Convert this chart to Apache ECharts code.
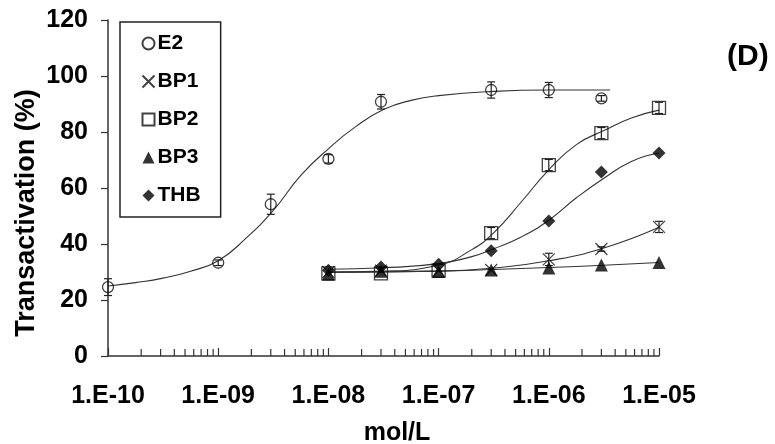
<!DOCTYPE html>
<html>
<head>
<meta charset="utf-8">
<script src="https://cdn.jsdelivr.net/npm/echarts@6/dist/echarts.min.js"></script>
<style>html,body{margin:0;padding:0;background:#fff;}#c{width:775px;height:444px;}</style>
</head>
<body>
<div id="c"></div>
<script>
// ---- data ----
const xTickLabels = ['1.E-10', '1.E-09', '1.E-08', '1.E-07', '1.E-06', '1.E-05'];
const yTicks = [0, 20, 40, 60, 80, 100, 120];

const e2Conc = [1e-10, 1e-9, 3e-9, 1e-8, 3e-8, 3e-7, 1e-6, 3e-6];
const e2Val  = [24.6, 33.3, 54.2, 70.4, 90.8, 95.0, 95.0, 92.0];
const e2Err  = [3.0, 1.0, 3.6, 1.5, 2.6, 2.9, 2.7, 1.0];

const cmpConc = [1e-8, 3e-8, 1e-7, 3e-7, 1e-6, 3e-6, 1e-5];
const bp1Val = [30.0, 30.5, 30.5, 30.7, 34.5, 38.2, 46.1];
const bp1Err = [0, 0, 0, 0, 2.2, 0.8, 2.0];
const bp2Val = [29.5, 29.5, 30.5, 43.9, 68.2, 79.6, 88.6];
const bp2Err = [0, 0, 0, 2.0, 2.0, 2.0, 2.0];
const bp3Val = [29.2, 30.3, 30.2, 30.7, 31.4, 32.5, 33.4];
const thbVal = [30.6, 31.8, 32.8, 37.6, 48.2, 65.7, 72.5];

// fitted curves
const e2FitX = [1e-10, 1.78e-10, 3.16e-10, 5.62e-10, 1e-9, 1.78e-9, 3.16e-9, 5.62e-9, 1e-8, 1.78e-8, 3.16e-8, 5.62e-8, 1e-7, 3.16e-7, 1e-6, 3.6e-6];
const e2FitY = [25.0, 26.2, 27.8, 30.3, 34.0, 42.0, 52.0, 64.5, 74.0, 82.0, 88.0, 91.3, 93.0, 94.5, 95.0, 95.0];
const sigFitX = [1e-8, 3.16e-8, 1e-7, 2e-7, 3.16e-7, 5.62e-7, 1e-6, 1.78e-6, 3.16e-6, 5.62e-6, 1e-5];
const bp2FitY = [30.0, 30.3, 32.5, 38.0, 44.0, 55.0, 66.5, 75.5, 80.5, 85.0, 87.8];
const thbFitY = [31.0, 31.5, 33.0, 35.5, 38.3, 42.5, 48.5, 56.5, 63.5, 69.5, 72.5];
const linFitX = [1e-8, 1e-7, 3.16e-7, 1e-6, 3.16e-6, 1e-5];
const bp1FitY = [30.0, 30.3, 31.4, 34.0, 38.6, 46.0];
const bp3FitY = [29.8, 30.3, 30.9, 31.6, 32.4, 33.4];

// minor tick positions (2..9 within each decade) — axis decoration
const minorTicks = [];
for (let e = -10; e < -5; e++) {
  for (let m = 2; m <= 9; m++) minorTicks.push([m * Math.pow(10, e)]);
}

const FONT = 'Liberation Sans';
const pair = (xs, ys) => xs.map((x, i) => [x, ys[i]]);
const errData = (xs, ys, es) => xs.map((x, i) => [x, ys[i] - es[i], ys[i] + es[i]]).filter((d, i) => es[i] > 0);

function errorSeries(data) {
  return {
    type: 'custom', silent: true, z: 3,
    renderItem: function (params, api) {
      const x = api.value(0);
      const lo = api.coord([x, api.value(1)]);
      const hi = api.coord([x, api.value(2)]);
      const w = 4;
      return {
        type: 'group',
        children: [
          { type: 'line', shape: { x1: lo[0], y1: lo[1], x2: hi[0], y2: hi[1] }, style: { stroke: '#222', lineWidth: 1.2 } },
          { type: 'line', shape: { x1: lo[0] - w, y1: lo[1], x2: lo[0] + w, y2: lo[1] }, style: { stroke: '#222', lineWidth: 1.2 } },
          { type: 'line', shape: { x1: hi[0] - w, y1: hi[1], x2: hi[0] + w, y2: hi[1] }, style: { stroke: '#222', lineWidth: 1.2 } }
        ]
      };
    },
    encode: { x: 0, y: [1, 2] },
    data: data
  };
}
function fitSeries(name, xs, ys) {
  return {
    name: name, type: 'line', smooth: 0.5, showSymbol: false, silent: true, z: 2,
    lineStyle: { color: '#333', width: 1.1 },
    data: pair(xs, ys)
  };
}

const chart = echarts.init(document.getElementById('c'), null, { renderer: 'canvas' });
chart.setOption({
  backgroundColor: '#fff',
  animation: false,
  grid: { left: 108, right: 116, top: 20, bottom: 88, containLabel: false },
  legend: {
    orient: 'vertical', left: 120, top: 22,
    data: ['E2', 'BP1', 'BP2', 'BP3', 'THB'],
    borderColor: '#222', borderWidth: 1.5,
    padding: [11, 20, 11, 20],
    itemGap: 17, itemWidth: 12, itemHeight: 12,
    textStyle: { fontFamily: FONT, fontWeight: 'bold', fontSize: 21, color: '#000', padding: [0, 0, 0, -2] }
  },
  xAxis: {
    type: 'log', logBase: 10, min: 1e-10, max: 1e-5, splitNumber: 5,
    axisLine: { lineStyle: { color: '#333', width: 1.5 } },
    axisTick: { inside: true, length: 8, lineStyle: { color: '#333', width: 1.2 } },
    splitLine: { show: false },
    axisLabel: {
      margin: 28, fontFamily: FONT, fontWeight: 'bold', fontSize: 25, color: '#000',
      formatter: function (v) { return xTickLabels[Math.round(Math.log10(v)) + 10]; }
    }
  },
  yAxis: {
    type: 'value', min: yTicks[0], max: yTicks[yTicks.length - 1], interval: 20,
    axisLine: { show: true, lineStyle: { color: '#333', width: 1.5 } },
    axisTick: { show: true, length: 7, lineStyle: { color: '#333', width: 1.2 } },
    splitLine: { show: false },
    axisLabel: { margin: 20, fontFamily: FONT, fontWeight: 'bold', fontSize: 25, color: '#000' }
  },
  graphic: [
    { type: 'text', left: 727, top: 42, style: { text: '(D)', fontFamily: FONT, fontWeight: 'bold', fontSize: 30, fill: '#000' } },
    { type: 'text', x: 397, y: 433, style: { text: 'mol/L', fontFamily: FONT, fontWeight: 'bold', fontSize: 25, fill: '#000', align: 'center', verticalAlign: 'middle' } },
    { type: 'text', x: 27, y: 213, rotation: Math.PI / 2, style: { text: 'Transactivation (%)', fontFamily: FONT, fontWeight: 'bold', fontSize: 27, fill: '#000', align: 'center', verticalAlign: 'middle' } }
  ],
  series: [
    fitSeries('E2 fit', e2FitX, e2FitY),
    fitSeries('BP1 fit', linFitX, bp1FitY),
    fitSeries('BP2 fit', sigFitX, bp2FitY),
    fitSeries('BP3 fit', linFitX, bp3FitY),
    fitSeries('THB fit', sigFitX, thbFitY),
    errorSeries(errData(e2Conc, e2Val, e2Err)),
    errorSeries(errData(cmpConc, bp1Val, bp1Err)),
    errorSeries(errData(cmpConc, bp2Val, bp2Err)),
    {
      type: 'custom', silent: true, z: 1,
      renderItem: function (params, api) {
        const p = api.coord([api.value(0), 0]);
        return { type: 'line', shape: { x1: p[0], y1: p[1], x2: p[0], y2: p[1] - 7 }, style: { stroke: '#333', lineWidth: 1.2 } };
      },
      encode: { x: 0 },
      data: minorTicks
    },
    {
      name: 'E2', type: 'scatter', symbol: 'circle', symbolSize: 11, z: 5,
      itemStyle: { color: 'rgba(255,255,255,0)', borderColor: '#111', borderWidth: 1.3 },
      data: pair(e2Conc, e2Val)
    },
    {
      name: 'BP1', type: 'scatter', symbol: 'path://M0,0L10,10M10,0L0,10', symbolSize: 12, z: 5,
      itemStyle: { color: 'none', borderColor: '#111', borderWidth: 1.2 },
      data: pair(cmpConc, bp1Val)
    },
    {
      name: 'BP2', type: 'scatter', symbol: 'rect', symbolSize: 13, z: 5,
      itemStyle: { color: 'rgba(255,255,255,0)', borderColor: '#111', borderWidth: 1.3 },
      data: pair(cmpConc, bp2Val)
    },
    {
      name: 'BP3', type: 'scatter', symbol: 'triangle', symbolSize: 13, z: 5,
      itemStyle: { color: '#000' },
      data: pair(cmpConc, bp3Val)
    },
    {
      name: 'THB', type: 'scatter', symbol: 'diamond', symbolSize: 13, z: 5,
      itemStyle: { color: '#000' },
      data: pair(cmpConc, thbVal)
    }
  ]
});
</script>
</body>
</html>
